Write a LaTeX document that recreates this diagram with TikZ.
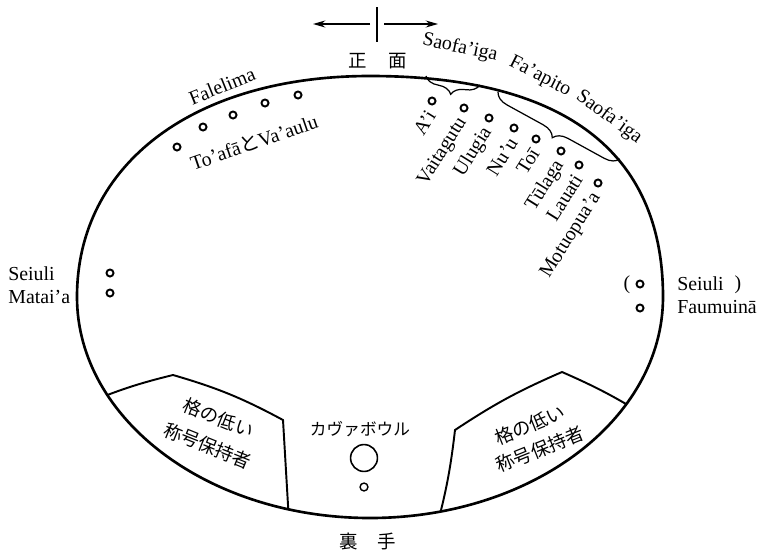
\documentclass[tikz,border=0pt]{standalone}
\usepackage{fontspec}
\setmainfont{Liberation Serif}
\newfontfamily\jp{Noto Sans CJK JP}
\usetikzlibrary{arrows.meta,decorations.pathreplacing}
\begin{document}
\begin{tikzpicture}[x=0.02cm,y=-0.02cm,
  lat/.style={font=\fontsize{11.3}{13}\selectfont, inner sep=0pt},
  jpt/.style={font=\jp\fontsize{10.5}{17}\selectfont, inner sep=0pt},
  seat/.style={circle,draw,line width=1.1pt,minimum size=4pt,inner sep=0pt},
  seatname/.style={lat,rotate=58,anchor=east},
  rim/.style={line width=1.5pt},
  zone/.style={line width=1.1pt},
  brc/.style={decorate,decoration={brace,mirror,amplitude=0.28cm},line width=0.7pt},
  arr/.style={line width=0.75pt,-{Stealth[length=7pt,width=4pt]}}
]
\useasboundingbox (0,0) rectangle (760,551);
\def\rimpath{(663,297) .. controls (663,151) and (563,76) .. (370,76) .. controls (194,76) and (77,164) .. (77,297) .. controls (77,419) and (208,518) .. (370,518) .. controls (532,518) and (663,419) .. (663,297) -- cycle}
\draw[rim] \rimpath;
\begin{scope}
\clip \rimpath;
\draw[zone] (92,401) to[bend left=4] (173,375) to[bend left=6] (283,420) -- (289,522);
\draw[zone] (437,526) to[bend right=4] (455,430) to[bend left=5] (562,372) to[bend left=4] (646,416);
\end{scope}

% front arrows
\coordinate (at) at (377,7);
\coordinate (ab) at (377,42);
\coordinate (acl) at (370,24);
\coordinate (acr) at (384,24);
\coordinate (al) at (313,24);
\coordinate (ar) at (438,24);
\draw[line width=1pt] (at) -- (ab);
\draw[arr] (acl) -- (al);
\draw[arr] (acr) -- (ar);
\node[jpt] (zheng) at (358,61) {正};
\node[jpt] (mian) at (398,61) {面};
\node[jpt] (li) at (349,541) {裏};
\node[jpt] (shou) at (387,541) {手};

% braces and group labels
\node[lat,rotate=-12] (sao1) at (460,48) {Saofa’iga};
\node[lat,rotate=-27] (fap) at (540,77) {Fa’apito};
\node[lat,rotate=-36] (sao2) at (609,117) {Saofa’iga};
\coordinate (b1s) at (426,76);
\coordinate (b1e) at (480,85);
\coordinate (b2s) at (498,92);
\coordinate (b2e) at (620,159);
\draw[brc] (b1s) -- (b1e);
\draw[brc] (b2s) -- (b2e);

% top right seats
\node[seat] (d1) at (432,101) {};
\node[seat] (d2) at (464,108) {};
\node[seat] (d3) at (489,118) {};
\node[seat] (d4) at (514,128) {};
\node[seat] (d5) at (536,139) {};
\node[seat] (d6) at (561,151) {};
\node[seat] (d7) at (579,165) {};
\node[seat] (d8) at (598,183) {};
\node[seatname] (n1) at (431,112) {A’i};
\node[seatname] (n2) at (463,119) {Vaitagutu};
\node[seatname] (n3) at (488,129) {Ulugia};
\node[seatname] (n4) at (513,139) {Nu’u};
\node[seatname] (n5) at (535,150) {Toī};
\node[seatname] (n6) at (560,162) {Tūlaga};
\node[seatname] (n7) at (578,176) {Lauati};
\node[seatname] (n8) at (597,194) {Motuopua’a};

% top left seats
\node[lat,rotate=22] (fal) at (222,86) {Falelima};
\node[seat] (f1) at (177,147) {};
\node[seat] (f2) at (203,127) {};
\node[seat] (f3) at (233,115) {};
\node[seat] (f4) at (265,103) {};
\node[seat] (f5) at (298,95) {};
\node[lat,rotate=19] (toa) at (254,142) {To’afā{\jp と}Va’aulu};

% left side
\node[lat,anchor=base west] (sm1) at (8,280) {Seiuli};
\node[lat,anchor=base west] (sm2) at (8,303) {Matai’a};
\node[seat] (l1) at (110,273) {};
\node[seat] (l2) at (110,293) {};

% right side
\node[lat] (lp) at (627,285) {(};
\node[seat] (r1) at (640,284) {};
\node[seat] (r2) at (640,308) {};
\node[lat,anchor=base west] (sf1) at (677,290) {Seiuli};
\node[lat] (rp) at (738,285) {)};
\node[lat,anchor=base west] (sf2) at (677,313) {Faumuinā};

% lower zones
\node[jpt,rotate=-22,align=center] (lowL) at (213,432) {格の低い\\称号保持者};
\node[jpt,rotate=22,align=center,font=\jp\fontsize{10.5}{15}\selectfont] (lowR) at (535,437) {格の低い\\称号保持者};
\node[jpt,font=\jp\fontsize{9.5}{11}\selectfont] (kava) at (360,429) {カヴァボウル};
\node[circle,draw,line width=0.9pt,minimum size=15.3pt,inner sep=0pt] (bowl) at (364,458) {};
\node[circle,draw,line width=0.8pt,minimum size=4.5pt,inner sep=0pt] (cup) at (364,487) {};
\end{tikzpicture}
\end{document}
